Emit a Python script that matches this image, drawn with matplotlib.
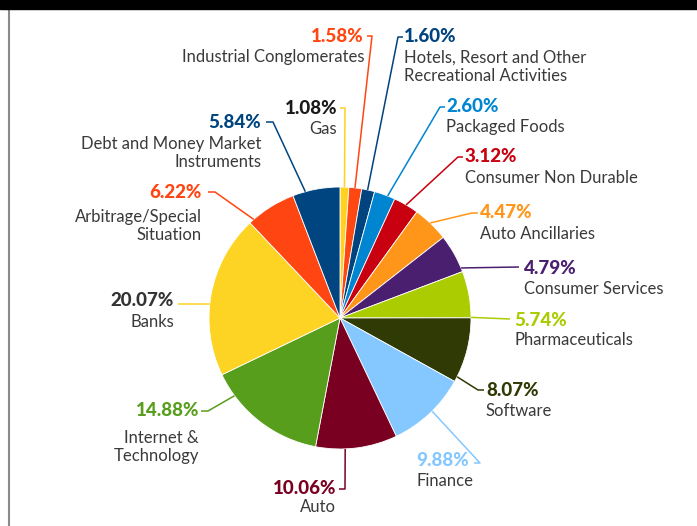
import numpy as np
import matplotlib
matplotlib.use("Agg")
from matplotlib import pyplot as plt
from matplotlib.patches import Rectangle

plt.rcParams['font.family'] = ['Lato', 'DejaVu Sans']

# Sector allocation, clockwise from 12 o'clock
sectors = ['Gas', 'Industrial Conglomerates', 'Hotels, Resort and Other\nRecreational Activities',
           'Packaged Foods', 'Consumer Non Durable', 'Auto Ancillaries', 'Consumer Services',
           'Pharmaceuticals', 'Software', 'Finance', 'Auto', 'Internet &\nTechnology', 'Banks',
           'Arbitrage/Special\nSituation', 'Debt and Money Market\nInstruments']
weights = [1.08, 1.58, 1.60, 2.60, 3.12, 4.47, 4.79, 5.74, 8.07, 9.88, 10.06, 14.88, 20.07, 6.22, 5.84]
colors = ['#FFD21F', '#FF4711', '#00437F', '#0085D1', '#C8000F', '#FF9619', '#4B1F6F',
          '#AACC00', '#2F3A05', '#85C8FF', '#7A0022', '#589E1D', '#FDD324', '#FF4511', '#00457F']
pct_colors = ['#1a1a1a', '#FF4711', '#00437F', '#0085D1', '#C8000F', '#FF9619', '#4B1F6F',
              '#AACC00', '#2F3A05', '#85C8FF', '#7A0022', '#589E1D', '#333333', '#FF4511', '#00457F']

W, H = 697, 526
CX, CY, R = 340, 318, 131

# layout: (where on wedge the leader starts 0..1, elbow, tick end, pct pos, pct align, name pos, name align)
layout = [
    (0.50, (345, 108), (340, 108), (337, 108), 'right', (337, 129), 'right'),
    (0.47, (372, 36), (367, 36), (364, 36), 'right', (364, 57), 'right'),
    (0.45, (398, 37), (403, 37), (404, 36), 'left', (404, 67), 'left'),
    (0.64, (440, 107), (445, 107), (446, 106), 'left', (446, 127), 'left'),
    (0.50, (458, 157), (463, 157), (465, 157), 'left', (465, 178), 'left'),
    (0.47, (472, 213), (478, 213), (480, 213), 'left', (480, 234), 'left'),
    (0.90, (519, 267), (519, 267), (524, 268), 'left', (524, 289), 'left'),
    (0.99, (510, 319), (510, 319), (514, 320), 'left', (514, 340), 'left'),
    (0.92, (478, 390), (484, 390), (486, 390), 'left', (486, 411), 'left'),
    (0.46, (480, 463), (474, 463), (416, 461), 'left', (416, 481), 'left'),
    (0.64, (345, 489), (339, 489), (336, 489), 'right', (318, 507), 'center'),
    (0.80, (208, 411), (201, 411), (199, 411), 'right', (199, 447), 'right'),
    (0.44, (178, 304), (178, 304), (174, 301), 'right', (152, 322), 'center'),
    (0.10, (215, 192), (208, 192), (202, 192), 'right', (202, 226), 'right'),
    (0.27, (273, 122), (266, 122), (261, 122), 'right', (261, 153), 'right'),
]

fig = plt.figure(figsize=(W / 100, H / 100), dpi=100)
ax = fig.add_axes([0, 0, 1, 1])

# y axis runs downward, so start at -90 and go "counterclockwise" to appear clockwise from top
wedges, _ = ax.pie(weights, colors=colors, startangle=-90, counterclock=True,
                   center=(CX, CY), radius=R,
                   wedgeprops=dict(edgecolor='white', linewidth=0.6))
ax.set_xlim(0, W)
ax.set_ylim(H, 0)
ax.set_aspect('equal')
ax.axis('off')

for w, name, val, pc, lay in zip(wedges, sectors, weights, pct_colors, layout):
    frac, elbow, tick, ppos, palign, npos, nalign = lay
    ang = np.deg2rad(w.theta1 + frac * (w.theta2 - w.theta1))
    ax0 = CX + R * np.cos(ang)
    ay0 = CY + R * np.sin(ang)
    ax.plot([ax0, elbow[0], tick[0]], [ay0, elbow[1], tick[1]], color=w.get_facecolor(),
            lw=1.1, solid_capstyle='butt')
    ax.text(ppos[0], ppos[1], '%.2f%%' % val, ha=palign, va='center', fontsize=13.5,
            fontweight='black', color=pc)
    ax.text(npos[0], npos[1], name, ha=nalign, va='center', fontsize=12, color='#3a3a3a',
            linespacing=1.2)

# frame bits
ax.add_patch(Rectangle((0, 0), W, 9, color='black', zorder=5))
ax.plot([9, 9], [9, H], color='#8a8a8a', lw=1.5)

fig.savefig('out.png', dpi=100)
